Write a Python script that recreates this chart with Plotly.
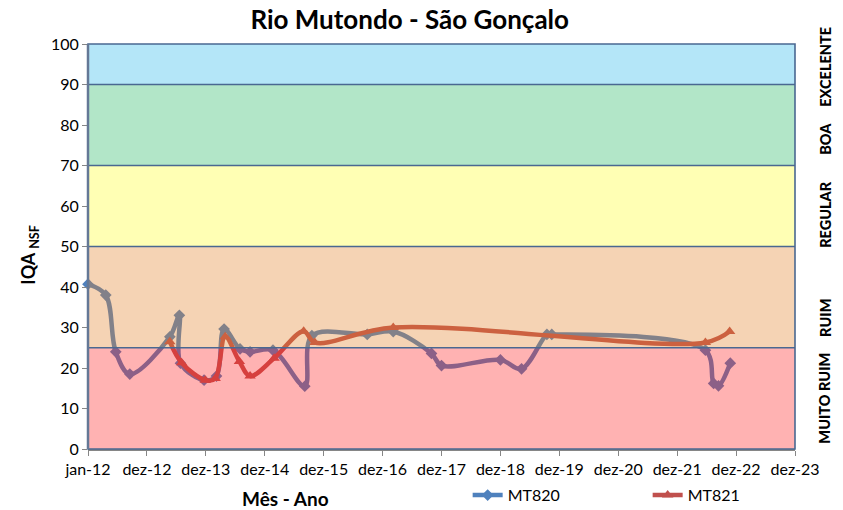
import plotly.graph_objects as go

# ---------------- data ----------------
mt820_dates = ["2012-01-01", "2012-04-20", "2012-06-21", "2012-09-16", "2013-05-22",
               "2013-07-20", "2013-07-27", "2013-12-20", "2014-03-07", "2014-04-23",
               "2014-07-31", "2014-10-01", "2015-02-20", "2015-09-05", "2015-10-19",
               "2016-09-26", "2017-03-06", "2017-10-29", "2017-12-30", "2018-12-30",
               "2019-05-10", "2019-10-14", "2019-11-13", "2022-06-22", "2022-08-12",
               "2022-09-11", "2022-11-23"]
mt820_vals = [40.7, 38.0, 24.0, 18.5, 27.7,
              33.0, 21.2, 17.0, 18.0, 29.6,
              24.7, 24.0, 24.4, 15.5, 28.0,
              28.3, 29.0, 23.6, 20.6, 22.0,
              19.8, 28.3, 28.3, 24.4, 16.2,
              15.6, 21.2]

mt821_dates = ["2013-05-22", "2013-08-03", "2013-12-27", "2014-02-27", "2014-04-30",
               "2014-07-27", "2014-10-01", "2015-02-27", "2015-08-29", "2015-11-06",
               "2017-03-06", "2022-06-22", "2022-11-19"]
mt821_vals = [26.5, 21.3, 17.0, 17.4, 27.7,
              21.6, 18.0, 22.4, 29.1, 26.3,
              30.0, 26.3, 29.0]

tick_dates = ["2012-01-01", "2012-12-31", "2013-12-31", "2014-12-31", "2015-12-31",
              "2016-12-30", "2017-12-30", "2018-12-30", "2019-12-30", "2020-12-29",
              "2021-12-29", "2022-12-29", "2023-12-29"]
tick_labels = ["jan-12", "dez-12", "dez-13", "dez-14", "dez-15", "dez-16", "dez-17",
               "dez-18", "dez-19", "dez-20", "dez-21", "dez-22", "dez-23"]

band_limits = [0, 25, 50, 70, 90, 100]
band_names = ["MUITO RUIM", "RUIM", "REGULAR", "BOA", "EXCELENTE"]
band_label_pos = [12.6, 32.3, 58.0, 76.5, 94.3]

# ---------------- style ----------------
FONT = "Lato"
band_fills = ["rgba(255,35,35,0.35)", "rgba(226,129,41,0.35)", "rgba(255,255,41,0.35)",
              "rgba(35,184,98,0.35)", "rgba(41,184,235,0.35)"]
edge = "rgb(74,104,145)"

fig = go.Figure()
fig.add_trace(go.Scatter(
    x=mt820_dates, y=mt820_vals, name="MT820", mode="lines+markers",
    line=dict(color="rgb(79,129,189)", width=4.5, shape="spline", smoothing=1.0),
    marker=dict(symbol="diamond", size=9, color="rgb(79,129,189)"),
    cliponaxis=False))
fig.add_trace(go.Scatter(
    x=mt821_dates, y=mt821_vals, name="MT821", mode="lines+markers",
    line=dict(color="rgb(192,80,77)", width=4.5, shape="spline", smoothing=1.0),
    marker=dict(symbol="triangle-up", size=10, color="rgb(192,80,77)"),
    cliponaxis=False))

shapes = []
for i in range(len(band_names)):
    shapes.append(dict(type="rect", xref="x domain", yref="y", x0=0, x1=1,
                       y0=band_limits[i], y1=band_limits[i + 1],
                       fillcolor=band_fills[i], line=dict(width=0), layer="above"))
for v in band_limits[1:-1]:
    shapes.append(dict(type="line", xref="x domain", yref="y", x0=0, x1=1, y0=v, y1=v,
                       line=dict(color=edge, width=1.6), layer="above"))
shapes.append(dict(type="rect", xref="x domain", yref="y domain", x0=0, x1=1, y0=0, y1=1,
                   line=dict(color=edge, width=1.6), fillcolor="rgba(0,0,0,0)", layer="above"))
shapes.append(dict(type="line", xref="x domain", yref="y domain", x0=0, x1=0, y0=0, y1=1,
                   line=dict(color="rgb(100,120,150)", width=2.5), layer="above"))

annotations = []
for name, pos in zip(band_names, band_label_pos):
    annotations.append(dict(text=name, xref="paper", yref="y", x=1.042, y=pos,
                            textangle=-90, showarrow=False, xanchor="center", yanchor="middle",
                            font=dict(family=FONT, size=14.5, color="black", weight=900)))
annotations.append(dict(text="<b>IQA <sub>NSF</sub></b>", xref="paper", yref="y",
                        x=-0.082, y=48, textangle=-90, showarrow=False,
                        xanchor="center", yanchor="middle",
                        font=dict(family=FONT, size=18, color="black")))
annotations.append(dict(text="<b>Mês - Ano</b>", xref="paper", yref="paper",
                        x=0.28, y=-0.121, showarrow=False, xanchor="center", yanchor="middle",
                        font=dict(family=FONT, size=19, color="black")))

fig.update_layout(
    width=843, height=510,
    margin=dict(l=88, r=48, t=44, b=61, autoexpand=False),
    paper_bgcolor="white", plot_bgcolor="white",
    title=dict(text="<b>Rio Mutondo - São Gonçalo</b>", x=0.486, xanchor="center",
               y=0.961, yanchor="middle", yref="container",
               font=dict(family=FONT, size=26, color="black")),
    font=dict(family=FONT, size=16, color="black"),
    xaxis=dict(type="date", range=["2012-01-01", "2023-12-29"],
               tickvals=tick_dates, ticktext=tick_labels, tickangle=0,
               ticks="outside", ticklen=5, tickcolor="rgb(134,134,134)",
               showgrid=False, zeroline=False, showline=True,
               linecolor="rgb(134,134,134)", linewidth=1.5,
               tickfont=dict(family=FONT, size=16)),
    yaxis=dict(range=[0, 100], tickvals=list(range(0, 101, 10)),
               ticks="outside", ticklen=5, tickcolor="rgb(134,134,134)",
               showgrid=False, zeroline=False, showline=False,
               tickfont=dict(family=FONT, size=16)),
    legend=dict(orientation="h", x=0.537, y=-0.114, xanchor="left", yanchor="middle",
                entrywidth=135, entrywidthmode="pixels",
                font=dict(family=FONT, size=16), bgcolor="rgba(0,0,0,0)"),
    shapes=shapes, annotations=annotations,
)

fig.write_html("out.html", config={"displayModeBar": False},
               post_script="document.body.style.margin='0px';")
